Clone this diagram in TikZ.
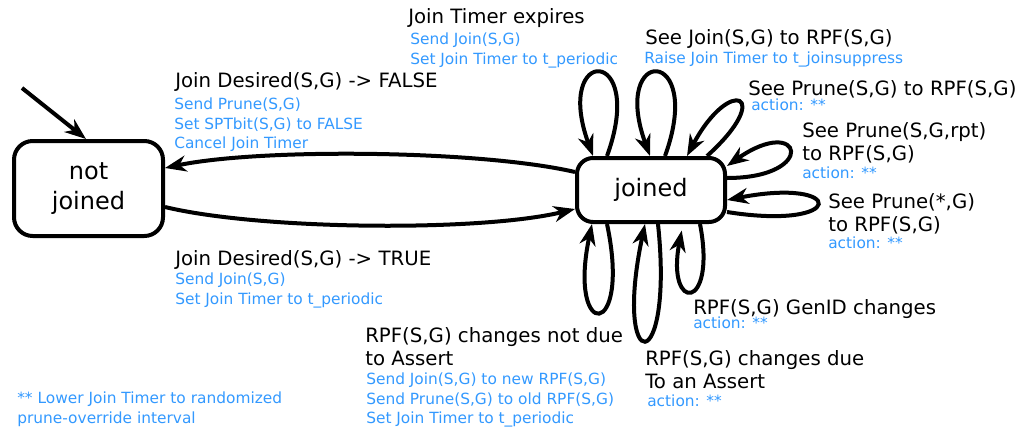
\documentclass[tikz,border=0pt]{standalone}
\usepackage{fontspec}
\setmainfont{DejaVu Sans}
\usepackage{xcolor}
\usetikzlibrary{arrows.meta}
\definecolor{actblue}{HTML}{3399FF}
\tikzset{%
	stbox/.style={
		draw,
		line width=3pt,
		align=center,
		font=\fontsize{18}{22}\selectfont
	},
	trans/.style={
		anchor=north west,
		inner sep=0pt,
		align=left,
		font=\fontsize{14.8}{17.6}\selectfont
	},
	act/.style={
		trans,
		text=actblue,
		font=\fontsize{11.55}{14.5}\selectfont
	},
	trarrow/.style={
		line width=3pt,
		-{Stealth[length=16pt,width=12pt,inset=5pt]}
	},
}
\begin{document}
\begin{tikzpicture}[x=0.75pt,y=0.75pt]
		\useasboundingbox (0,0) rectangle (1022,-429);
		\node[stbox, rounded corners=14pt, minimum width=111.75pt, minimum height=71.25pt] (notj) at (88.5,-188.5) {not\\joined};
		\node[stbox, rounded corners=12pt, minimum width=111pt, minimum height=48pt] (join) at (651,-190) {joined};
		\coordinate (init) at (22,-88);
		\draw[trarrow] (init) -- (notj.north -| 86,0);
		\draw[trarrow] (join.west |- 0,-172) .. controls (480,-150) and (260,-148) .. (notj.east |- 0,-168);
		\draw[trarrow] (notj.east |- 0,-207) .. controls (260,-230) and (480,-232) .. (join.west |- 0,-209);
		% loops above and right
		\draw[trarrow] (join.north -| 607,0) .. controls +(70:118) and +(110:118) .. (join.north -| 593,0);
		\draw[trarrow] (join.north -| 665,0) .. controls +(70:118) and +(110:118) .. (join.north -| 650,0);
		\draw[trarrow] (join.north -| 707,0) .. controls +(42:92) and +(62:92) .. (join.north -| 687,0);
		\draw[trarrow] (join.east |- 0,-178) .. controls +(0:92) and +(35:92) .. (join.east |- 0,-166);
		\draw[trarrow] (join.east |- 0,-212) .. controls +(-9:122) and +(11:122) .. (join.east |- 0,-200);
		% loops below
		\draw[trarrow] (join.south -| 607,0) .. controls +(-78:120) and +(-102:120) .. (join.south -| 592,0);
		\draw[trarrow] (join.south -| 658,0) .. controls +(-84:157) and +(-102:157) .. (join.south -| 645,0);
		\draw[trarrow, shorten >=5pt] (join.south -| 700,0) .. controls +(-79:90) and +(-101:90) .. (join.south -| 683,0);
		% labels
		\node[trans] (jte) at (408,-8) {Join Timer expires};
		\node[act] (jteact) at (410,-33) {Send Join(S,G)\\Set Join Timer to t\_periodic};
		\node[trans] (sjo) at (645,-29) {See Join(S,G) to RPF(S,G)};
		\node[act] (sjoact) at (644,-52) {Raise Join Timer to t\_joinsuppress};
		\node[trans] (jdf) at (175,-72) {Join Desired(S,G) -> FALSE};
		\node[act] (jdfact) at (174,-98) {Send Prune(S,G)\\Set SPTbit(S,G) to FALSE\\Cancel Join Timer};
		\node[trans] (spr) at (748,-80) {See Prune(S,G) to RPF(S,G)};
		\node[act] (spract) at (751,-99) {action: **};
		\node[trans] (sprpt) at (802,-122) {See Prune(S,G,rpt)\\to RPF(S,G)};
		\node[act] (sprptact) at (802,-167) {action: **};
		\node[trans] (spa) at (828,-193) {See Prune(*,G)\\to RPF(S,G)};
		\node[act] (spaact) at (828,-237) {action: **};
		\node[trans] (jdt) at (175,-250) {Join Desired(S,G) -> TRUE};
		\node[act] (jdtact) at (175,-273) {Send Join(S,G)\\Set Join Timer to t\_periodic};
		\node[trans] (gid) at (693,-299) {RPF(S,G) GenID changes};
		\node[act] (gidact) at (693,-317) {action: **};
		\node[trans] (nda) at (365,-327) {RPF(S,G) changes not due\\to Assert};
		\node[act] (ndaact) at (366,-373) {Send Join(S,G) to new RPF(S,G)\\Send Prune(S,G) to old RPF(S,G)\\Set Join Timer to t\_periodic};
		\node[trans] (dua) at (645,-350) {RPF(S,G) changes due\\To an Assert};
		\node[act] (duaact) at (647,-395) {action: **};
		\node[act] (note) at (17,-392) {** Lower Join Timer to randomized\\prune-override interval};
\end{tikzpicture}
\end{document}
